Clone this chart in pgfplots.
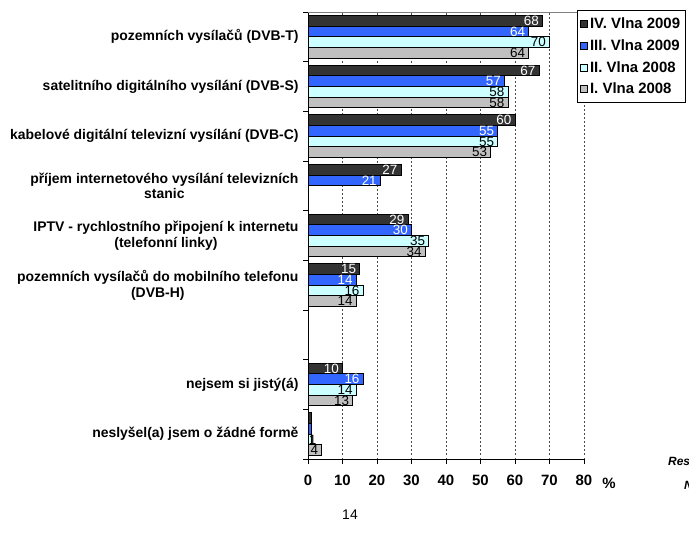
\documentclass[border=0pt]{standalone}
\usepackage{pgfplots}
\pgfplotsset{compat=1.18}
\usepackage{fontspec}
\setmainfont{Liberation Sans}

\definecolor{vlnaIV}{HTML}{333333}
\definecolor{vlnaIII}{HTML}{3366FF}
\definecolor{vlnaII}{HTML}{CCFFFF}
\definecolor{vlnaI}{HTML}{C0C0C0}

\begin{document}
\begin{tikzpicture}
\useasboundingbox (0,0) rectangle (689bp,539bp);
\clip (0,0) rectangle (689bp,539bp);
\begin{axis}[
    at={(308bp,80bp)}, anchor=south west,
    scale only axis, width=276bp, height=447bp,
    xbar, bar width=0.215,
    xmin=0, xmax=80, ymin=-0.5, ymax=8.5,
    axis x line*=bottom, axis y line*=left,
    axis line style={black, line width=1bp},
    xtick={0,10,...,80},
    ytick={0,...,8},
    yticklabels={neslyšel(a) jsem o žádné formě, nejsem si jistý(á), {},
      {pozemních vysílačů do mobilního telefonu\\(DVB-H)},
      {IPTV - rychlostního připojení k internetu\\(telefonní linky)},
      {příjem internetového vysílání televizních\\stanic},
      kabelové digitální televizní vysílání (DVB-C),
      satelitního digitálního vysílání (DVB-S),
      pozemních vysílačů (DVB-T)},
    minor ytick={-0.5,0.5,...,8.5},
    tick align=outside,
    major tick length=5bp, minor tick length=5bp,
    tick style={black, line width=0.8bp},
    major y tick style={draw=none},
    xmajorgrids,
    grid style={black!70, line width=0.6bp, dash pattern=on 1.5bp off 2.5bp},
    /pgf/number format/assume math mode=true,
    xticklabel style={font=\bfseries\fontsize{15}{17}\selectfont, yshift=-8bp},
    yticklabel style={align=center, font=\bfseries\fontsize{14}{16}\selectfont, xshift=-1bp},
    point meta=explicit symbolic,
    nodes near coords,
    visualization depends on={rawx \as \rawx},
    nodes near coords style={anchor=east, font=\fontsize{13.5}{15}\selectfont,
      xshift={max(0,12-3.44*\rawx)*1bp}},
    every axis plot/.append style={draw=black, line width=0.8bp,
      legend image code/.code={\draw[##1, draw=black, line width=0.6bp] (2bp,-3.5bp) rectangle (9bp,3.5bp);}},
    legend style={at={(rel axis cs:0.975,1.005)}, anchor=north west, draw=black,
      line width=0.8bp, fill=white, font=\bfseries\fontsize{15}{17}\selectfont,
      row sep=5.5bp, inner xsep=3bp, inner ysep=5.5bp, cells={anchor=west}},
  ]
  \addplot[fill=vlnaIV, bar shift=0.3225, nodes near coords style={text=white}] coordinates {
    (68,8) [68] (67,7) [67] (60,6) [60] (27,5) [27] (29,4) [29] (15,3) [15] (10,1) [10] (1,0) []};
  \addplot[fill=vlnaIII, bar shift=0.1075, nodes near coords style={text=white}] coordinates {
    (64,8) [64] (57,7) [57] (55,6) [55] (21,5) [21] (30,4) [30] (14,3) [14] (16,1) [16] (1,0) []};
  \addplot[fill=vlnaII, bar shift=-0.1075, nodes near coords style={text=black}] coordinates {
    (70,8) [70] (58,7) [58] (55,6) [55] (35,4) [35] (16,3) [16] (14,1) [14] (1,0) [1]};
  \addplot[fill=vlnaI, bar shift=-0.3225, nodes near coords style={text=black}] coordinates {
    (64,8) [64] (58,7) [58] (53,6) [53] (34,4) [34] (14,3) [14] (13,1) [13] (4,0) [4]};
  \legend{IV. Vlna 2009, III. Vlna 2009, II. Vlna 2008, I. Vlna 2008}
  \draw[gray, line width=1bp] (rel axis cs:0,1) -- (rel axis cs:1,1);
\end{axis}
\node[font=\bfseries\fontsize{15}{17}\selectfont] at (609bp,56bp) {\%};
\node[font=\fontsize{14}{16}\selectfont] at (350bp,24bp) {14};
\node[anchor=west, inner sep=0pt, font=\bfseries\itshape\fontsize{12}{14}\selectfont] at (668bp,77bp) {Respondenti};
\node[anchor=west, inner sep=0pt, font=\bfseries\itshape\fontsize{12}{14}\selectfont] at (684bp,54bp) {N};
\end{tikzpicture}
\end{document}
